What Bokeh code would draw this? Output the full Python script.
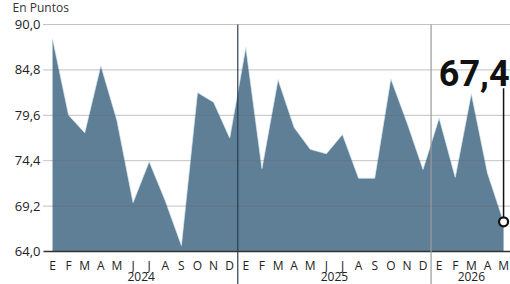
from bokeh.plotting import figure
from bokeh.models import Range1d
from bokeh.core.properties import value
from bokeh.embed import file_html
from bokeh.resources import INLINE

month_labels = ["E", "F", "M", "A", "M", "J", "J", "A", "S", "O", "N", "D"] * 2 + ["E", "F", "M", "A", "M"]
years = ["2024", "2025", "2026"]
values_2024 = [88.4, 79.6, 77.6, 85.3, 79.0, 69.6, 74.3, 69.8, 64.7, 82.2, 81.1, 77.0]
values_2025 = [87.4, 73.5, 83.7, 78.2, 75.7, 75.2, 77.4, 72.4, 72.4, 83.8, 78.8, 73.4]
values_2026 = [79.3, 72.5, 82.1, 73.0, 67.4]
y_ticks = [64.0, 69.2, 74.4, 79.6, 84.8, 90.0]
unit_label = "En Puntos"

values = values_2024 + values_2025 + values_2026
idx = list(range(len(values)))
year_lengths = [len(values_2024), len(values_2025), len(values_2026)]

year_centers = []
dividers = []
start = 0
for n in year_lengths:
    year_centers.append(start + (n - 1) / 2)
    if start > 0:
        dividers.append(start - 0.5)
    start += n

FONT = "Open Sans"
AREA = "#5f7f97"
TXT = "#222222"
y_min, y_max = y_ticks[0], y_ticks[-1]

# the plotting frame covers the whole canvas; labels live inside it
x0, x1 = -3.23, 28.43
yb, yt = y_min - 3.78, y_max + 2.75
p = figure(width=510, height=284, output_backend="svg", toolbar_location=None,
           x_range=Range1d(x0, x1), y_range=Range1d(yb, yt),
           min_border=0, x_axis_location=None, y_axis_location=None)
p.outline_line_color = None
p.grid.grid_line_color = None
p.background_fill_color = "white"
p.border_fill_color = "white"

grid_left = -0.56

p.varea(x=idx, y1=y_min, y2=values, fill_color=AREA)
p.line(idx, values, line_color="#dcecf2", line_width=1, line_alpha=0.7)

# dotted grid lines and solid baseline
g = p.segment(x0=[grid_left] * (len(y_ticks) - 1), y0=y_ticks[1:], x1=[x1] * (len(y_ticks) - 1), y1=y_ticks[1:],
              line_color="#666666", line_alpha=0.8, line_dash="1 1", line_width=1)
g.level = "annotation"
b = p.segment(x0=[grid_left], y0=[y_min], x1=[x1], y1=[y_min], line_color="#333333", line_width=1.5)
b.level = "annotation"

# y tick labels
p.text(x=[-0.75] * len(y_ticks), y=y_ticks, text=[f"{t:.1f}".replace(".", ",") for t in y_ticks],
       text_align="right", text_baseline="middle", text_font=value(FONT), text_font_size="13px",
       text_color=TXT)

# year dividers (run down through the label area)
div_colors = ["#2b3d55", "#9a9a9a"]
for d, c in zip(dividers, div_colors):
    s = p.segment(x0=[d], y0=[y_max], x1=[d], y1=[yb], line_color=c, line_width=1.2)
    s.level = "annotation"

# month and year labels
p.text(x=idx, y=[y_min - 1.6] * len(idx), text=month_labels, text_align="center",
       text_baseline="middle", text_font=value(FONT), text_font_size="12px", text_color=TXT)
p.text(x=year_centers, y=[y_min - 2.85] * len(years), text=years, text_align="center",
       text_baseline="middle", text_font=value(FONT), text_font_size="12px", text_color=TXT)

# unit label at the very top
p.text(x=[-2.48], y=[yt - 0.85], text=[unit_label], text_align="left", text_baseline="alphabetic",
       text_font=value(FONT), text_font_size="12px", text_color="#333333")

# annotation of last value
last_x = idx[-1]
last_v = values[-1]
label = f"{last_v:.1f}".replace(".", ",")
seg = p.segment(x0=[last_x], y0=[last_v + 15.3], x1=[last_x], y1=[last_v], line_color="#111111", line_width=1.5)
seg.level = "overlay"
txt = p.text(x=[last_x], y=[last_v + 17.0], text=[label], text_align="right", text_baseline="alphabetic",
             x_offset=6, text_font=value("Roboto"),
             text_font_style="bold", text_font_size="36px", text_color="#111111")
txt.level = "overlay"
dot = p.scatter(x=[last_x], y=[last_v], size=9, fill_color="white", line_color="#111111", line_width=2.2)
dot.level = "overlay"

open("out.html", "w").write(file_html(p, INLINE))
